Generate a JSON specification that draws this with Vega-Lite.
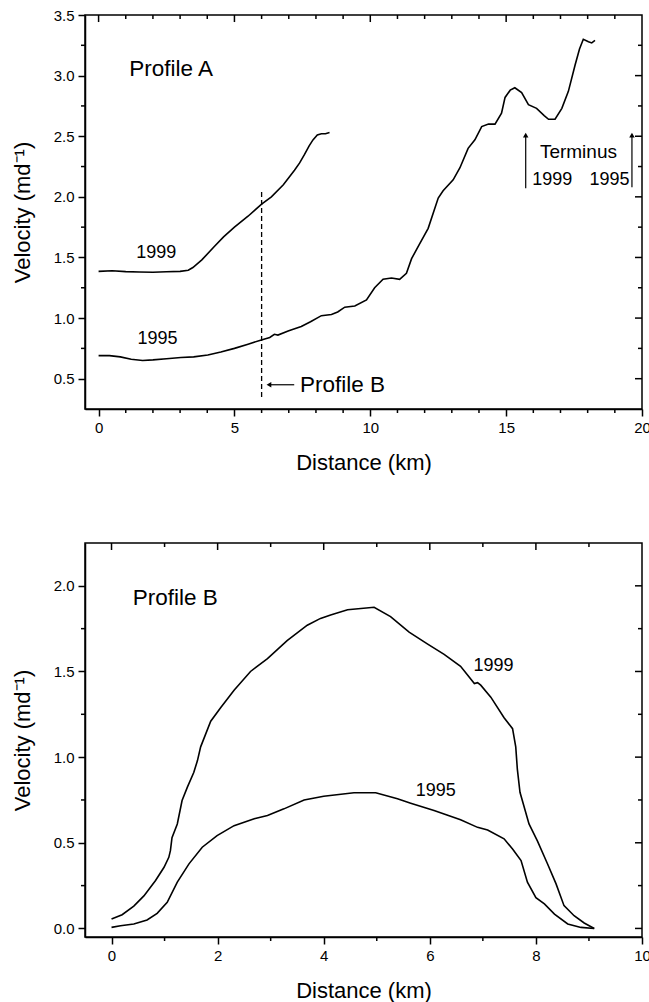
{
  "$schema": "https://vega.github.io/schema/vega-lite/v6.json",
  "padding": {"left": 10, "top": 7, "right": 0, "bottom": 0},
  "background": "white",
  "config": {
    "font": "Liberation Sans",
    "view": {"stroke": "black", "strokeWidth": 1.5},
    "axis": {
      "domainColor": "black", "domainWidth": 1.5,
      "tickColor": "black", "tickWidth": 1.5,
      "labelColor": "black", "titleColor": "black",
      "labelFont": "Liberation Sans", "titleFont": "Liberation Sans",
      "labelFontSize": 15, "titleFontSize": 22, "titleFontWeight": "normal",
      "grid": false, "labelFlush": false, "labelOverlap": false, "labelPadding": 4
    },
    "rule": {"color": "black", "strokeWidth": 1.5},
    "text": {"font": "Liberation Sans", "color": "black"}
  },
  "datasets": {
    "profileA": [
      {"distance": 0, "velocity": 1.385, "year": "1999"},
      {"distance": 0.5, "velocity": 1.39, "year": "1999"},
      {"distance": 1, "velocity": 1.383, "year": "1999"},
      {"distance": 1.5, "velocity": 1.38, "year": "1999"},
      {"distance": 2, "velocity": 1.378, "year": "1999"},
      {"distance": 2.5, "velocity": 1.382, "year": "1999"},
      {"distance": 3, "velocity": 1.385, "year": "1999"},
      {"distance": 3.3, "velocity": 1.395, "year": "1999"},
      {"distance": 3.47, "velocity": 1.417, "year": "1999"},
      {"distance": 3.8, "velocity": 1.48, "year": "1999"},
      {"distance": 4.26, "velocity": 1.59, "year": "1999"},
      {"distance": 4.6, "velocity": 1.67, "year": "1999"},
      {"distance": 5, "velocity": 1.75, "year": "1999"},
      {"distance": 5.5, "velocity": 1.84, "year": "1999"},
      {"distance": 6, "velocity": 1.94, "year": "1999"},
      {"distance": 6.36, "velocity": 2.0, "year": "1999"},
      {"distance": 6.8, "velocity": 2.1, "year": "1999"},
      {"distance": 7.21, "velocity": 2.22, "year": "1999"},
      {"distance": 7.4, "velocity": 2.28, "year": "1999"},
      {"distance": 7.58, "velocity": 2.35, "year": "1999"},
      {"distance": 7.75, "velocity": 2.42, "year": "1999"},
      {"distance": 7.89, "velocity": 2.47, "year": "1999"},
      {"distance": 8.05, "velocity": 2.51, "year": "1999"},
      {"distance": 8.2, "velocity": 2.52, "year": "1999"},
      {"distance": 8.35, "velocity": 2.52, "year": "1999"},
      {"distance": 8.5, "velocity": 2.53, "year": "1999"},
      {"distance": 0, "velocity": 0.69, "year": "1995"},
      {"distance": 0.4, "velocity": 0.69, "year": "1995"},
      {"distance": 0.8, "velocity": 0.68, "year": "1995"},
      {"distance": 1.2, "velocity": 0.66, "year": "1995"},
      {"distance": 1.62, "velocity": 0.65, "year": "1995"},
      {"distance": 2, "velocity": 0.655, "year": "1995"},
      {"distance": 2.5, "velocity": 0.665, "year": "1995"},
      {"distance": 3.03, "velocity": 0.675, "year": "1995"},
      {"distance": 3.5, "velocity": 0.68, "year": "1995"},
      {"distance": 4.02, "velocity": 0.695, "year": "1995"},
      {"distance": 4.5, "velocity": 0.72, "year": "1995"},
      {"distance": 5, "velocity": 0.75, "year": "1995"},
      {"distance": 5.5, "velocity": 0.785, "year": "1995"},
      {"distance": 5.99, "velocity": 0.82, "year": "1995"},
      {"distance": 6.3, "velocity": 0.84, "year": "1995"},
      {"distance": 6.47, "velocity": 0.866, "year": "1995"},
      {"distance": 6.6, "velocity": 0.86, "year": "1995"},
      {"distance": 7, "velocity": 0.895, "year": "1995"},
      {"distance": 7.46, "velocity": 0.93, "year": "1995"},
      {"distance": 7.8, "velocity": 0.97, "year": "1995"},
      {"distance": 8.2, "velocity": 1.02, "year": "1995"},
      {"distance": 8.57, "velocity": 1.03, "year": "1995"},
      {"distance": 8.8, "velocity": 1.05, "year": "1995"},
      {"distance": 9.06, "velocity": 1.09, "year": "1995"},
      {"distance": 9.43, "velocity": 1.1, "year": "1995"},
      {"distance": 9.86, "velocity": 1.15, "year": "1995"},
      {"distance": 10.16, "velocity": 1.25, "year": "1995"},
      {"distance": 10.47, "velocity": 1.32, "year": "1995"},
      {"distance": 10.78, "velocity": 1.33, "year": "1995"},
      {"distance": 11.08, "velocity": 1.32, "year": "1995"},
      {"distance": 11.33, "velocity": 1.37, "year": "1995"},
      {"distance": 11.52, "velocity": 1.49, "year": "1995"},
      {"distance": 11.76, "velocity": 1.59, "year": "1995"},
      {"distance": 12.13, "velocity": 1.74, "year": "1995"},
      {"distance": 12.5, "velocity": 1.99, "year": "1995"},
      {"distance": 12.68, "velocity": 2.05, "year": "1995"},
      {"distance": 13.05, "velocity": 2.14, "year": "1995"},
      {"distance": 13.3, "velocity": 2.24, "year": "1995"},
      {"distance": 13.6, "velocity": 2.4, "year": "1995"},
      {"distance": 13.85, "velocity": 2.47, "year": "1995"},
      {"distance": 14.1, "velocity": 2.58, "year": "1995"},
      {"distance": 14.35, "velocity": 2.6, "year": "1995"},
      {"distance": 14.59, "velocity": 2.6, "year": "1995"},
      {"distance": 14.83, "velocity": 2.69, "year": "1995"},
      {"distance": 14.96, "velocity": 2.82, "year": "1995"},
      {"distance": 15.15, "velocity": 2.88, "year": "1995"},
      {"distance": 15.32, "velocity": 2.9, "year": "1995"},
      {"distance": 15.57, "velocity": 2.86, "year": "1995"},
      {"distance": 15.82, "velocity": 2.76, "year": "1995"},
      {"distance": 16.12, "velocity": 2.73, "year": "1995"},
      {"distance": 16.4, "velocity": 2.67, "year": "1995"},
      {"distance": 16.56, "velocity": 2.64, "year": "1995"},
      {"distance": 16.8, "velocity": 2.64, "year": "1995"},
      {"distance": 17.05, "velocity": 2.73, "year": "1995"},
      {"distance": 17.29, "velocity": 2.87, "year": "1995"},
      {"distance": 17.54, "velocity": 3.09, "year": "1995"},
      {"distance": 17.7, "velocity": 3.22, "year": "1995"},
      {"distance": 17.84, "velocity": 3.3, "year": "1995"},
      {"distance": 18.03, "velocity": 3.28, "year": "1995"},
      {"distance": 18.15, "velocity": 3.27, "year": "1995"},
      {"distance": 18.27, "velocity": 3.29, "year": "1995"}
    ],
    "profileB": [
      {"distance": 0, "velocity": 0.055, "year": "1999"},
      {"distance": 0.2, "velocity": 0.08, "year": "1999"},
      {"distance": 0.42, "velocity": 0.13, "year": "1999"},
      {"distance": 0.61, "velocity": 0.19, "year": "1999"},
      {"distance": 0.83, "velocity": 0.28, "year": "1999"},
      {"distance": 0.99, "velocity": 0.357, "year": "1999"},
      {"distance": 1.08, "velocity": 0.415, "year": "1999"},
      {"distance": 1.11, "velocity": 0.454, "year": "1999"},
      {"distance": 1.14, "velocity": 0.53, "year": "1999"},
      {"distance": 1.24, "velocity": 0.61, "year": "1999"},
      {"distance": 1.33, "velocity": 0.747, "year": "1999"},
      {"distance": 1.43, "velocity": 0.825, "year": "1999"},
      {"distance": 1.55, "velocity": 0.91, "year": "1999"},
      {"distance": 1.62, "velocity": 0.98, "year": "1999"},
      {"distance": 1.68, "velocity": 1.06, "year": "1999"},
      {"distance": 1.87, "velocity": 1.21, "year": "1999"},
      {"distance": 2.06, "velocity": 1.29, "year": "1999"},
      {"distance": 2.31, "velocity": 1.39, "year": "1999"},
      {"distance": 2.62, "velocity": 1.5, "year": "1999"},
      {"distance": 2.94, "velocity": 1.575, "year": "1999"},
      {"distance": 3.31, "velocity": 1.68, "year": "1999"},
      {"distance": 3.69, "velocity": 1.77, "year": "1999"},
      {"distance": 3.94, "velocity": 1.81, "year": "1999"},
      {"distance": 4.13, "velocity": 1.83, "year": "1999"},
      {"distance": 4.45, "velocity": 1.86, "year": "1999"},
      {"distance": 4.95, "velocity": 1.875, "year": "1999"},
      {"distance": 5.26, "velocity": 1.82, "year": "1999"},
      {"distance": 5.61, "velocity": 1.73, "year": "1999"},
      {"distance": 5.96, "velocity": 1.66, "year": "1999"},
      {"distance": 6.27, "velocity": 1.6, "year": "1999"},
      {"distance": 6.58, "velocity": 1.53, "year": "1999"},
      {"distance": 6.84, "velocity": 1.43, "year": "1999"},
      {"distance": 6.9, "velocity": 1.435, "year": "1999"},
      {"distance": 6.96, "velocity": 1.42, "year": "1999"},
      {"distance": 7.15, "velocity": 1.35, "year": "1999"},
      {"distance": 7.4, "velocity": 1.23, "year": "1999"},
      {"distance": 7.56, "velocity": 1.166, "year": "1999"},
      {"distance": 7.62, "velocity": 1.06, "year": "1999"},
      {"distance": 7.65, "velocity": 0.93, "year": "1999"},
      {"distance": 7.7, "velocity": 0.795, "year": "1999"},
      {"distance": 7.87, "velocity": 0.61, "year": "1999"},
      {"distance": 8.03, "velocity": 0.51, "year": "1999"},
      {"distance": 8.22, "velocity": 0.376, "year": "1999"},
      {"distance": 8.38, "velocity": 0.26, "year": "1999"},
      {"distance": 8.53, "velocity": 0.133, "year": "1999"},
      {"distance": 8.72, "velocity": 0.074, "year": "1999"},
      {"distance": 8.91, "velocity": 0.032, "year": "1999"},
      {"distance": 9.1, "velocity": 0.0, "year": "1999"},
      {"distance": 0, "velocity": 0.006, "year": "1995"},
      {"distance": 0.17, "velocity": 0.016, "year": "1995"},
      {"distance": 0.42, "velocity": 0.026, "year": "1995"},
      {"distance": 0.67, "velocity": 0.049, "year": "1995"},
      {"distance": 0.86, "velocity": 0.088, "year": "1995"},
      {"distance": 1.05, "velocity": 0.152, "year": "1995"},
      {"distance": 1.24, "velocity": 0.27, "year": "1995"},
      {"distance": 1.46, "velocity": 0.377, "year": "1995"},
      {"distance": 1.71, "velocity": 0.474, "year": "1995"},
      {"distance": 1.99, "velocity": 0.542, "year": "1995"},
      {"distance": 2.31, "velocity": 0.6, "year": "1995"},
      {"distance": 2.69, "velocity": 0.64, "year": "1995"},
      {"distance": 2.94, "velocity": 0.659, "year": "1995"},
      {"distance": 3.25, "velocity": 0.698, "year": "1995"},
      {"distance": 3.63, "velocity": 0.75, "year": "1995"},
      {"distance": 4.0, "velocity": 0.772, "year": "1995"},
      {"distance": 4.57, "velocity": 0.792, "year": "1995"},
      {"distance": 4.98, "velocity": 0.792, "year": "1995"},
      {"distance": 5.39, "velocity": 0.757, "year": "1995"},
      {"distance": 5.64, "velocity": 0.731, "year": "1995"},
      {"distance": 6.08, "velocity": 0.688, "year": "1995"},
      {"distance": 6.58, "velocity": 0.634, "year": "1995"},
      {"distance": 6.9, "velocity": 0.59, "year": "1995"},
      {"distance": 7.09, "velocity": 0.575, "year": "1995"},
      {"distance": 7.4, "velocity": 0.523, "year": "1995"},
      {"distance": 7.56, "velocity": 0.464, "year": "1995"},
      {"distance": 7.72, "velocity": 0.396, "year": "1995"},
      {"distance": 7.84, "velocity": 0.27, "year": "1995"},
      {"distance": 8.0, "velocity": 0.18, "year": "1995"},
      {"distance": 8.16, "velocity": 0.143, "year": "1995"},
      {"distance": 8.35, "velocity": 0.084, "year": "1995"},
      {"distance": 8.6, "velocity": 0.026, "year": "1995"},
      {"distance": 8.85, "velocity": 0.006, "year": "1995"},
      {"distance": 9.1, "velocity": 0.0, "year": "1995"}
    ],
    "tickAxMajor": [{"t": 0}, {"t": 5}, {"t": 10}, {"t": 15}],
    "tickAxMinor": [{"t": 1}, {"t": 2}, {"t": 3}, {"t": 4}, {"t": 6}, {"t": 7}, {"t": 8}, {"t": 9}, {"t": 11}, {"t": 12}, {"t": 13}, {"t": 14}, {"t": 16}, {"t": 17}, {"t": 18}, {"t": 19}],
    "tickAyMajor": [{"t": 0.5}, {"t": 1}, {"t": 1.5}, {"t": 2}, {"t": 2.5}, {"t": 3}],
    "tickAyMinor": [{"t": 0.75}, {"t": 1.25}, {"t": 1.75}, {"t": 2.25}, {"t": 2.75}, {"t": 3.25}],
    "tickBxMajor": [{"t": 0}, {"t": 2}, {"t": 4}, {"t": 6}, {"t": 8}],
    "tickBxMinor": [{"t": 1}, {"t": 3}, {"t": 5}, {"t": 7}, {"t": 9}],
    "tickByMajor": [{"t": 0}, {"t": 0.5}, {"t": 1}, {"t": 1.5}, {"t": 2}],
    "tickByMinor": [{"t": 0.25}, {"t": 0.75}, {"t": 1.25}, {"t": 1.75}]
  },
  "spacing": 67,
  "vconcat": [
    {
      "width": 557,
      "height": 394,
      "layer": [
        {
          "data": {"name": "profileA"},
          "mark": {"type": "line", "color": "black", "strokeWidth": 1.6},
          "encoding": {
            "x": {
              "field": "distance", "type": "quantitative",
              "scale": {"domain": [-0.5, 20], "nice": false, "zero": false},
              "axis": {"orient": "bottom", "title": "Distance (km)", "titlePadding": 17, "format": "d", "values": [0, 5, 10, 15, 20], "tickSize": 7, "labelOverlap": false}
            },
            "y": {
              "field": "velocity", "type": "quantitative",
              "scale": {"domain": [0.25, 3.5], "nice": false, "zero": false},
              "axis": {"orient": "left", "title": "Velocity (md⁻¹)", "titlePadding": 19, "format": ".1f", "values": [0.5, 1, 1.5, 2, 2.5, 3, 3.5], "tickSize": 7, "labelOverlap": false}
            },
            "detail": {"field": "year", "type": "nominal"}
          }
        },
        {
          "data": {"name": "tickAxMajor"},
          "mark": {"type": "rule"},
          "encoding": {
            "x": {"field": "t", "type": "quantitative"},
            "y": {"datum": 3.5, "type": "quantitative"},
            "y2": {"datum": 3.442}
          }
        },
        {
          "data": {"name": "tickAxMinor"},
          "mark": {"type": "rule"},
          "encoding": {
            "x": {"field": "t", "type": "quantitative"},
            "y": {"datum": 3.5, "type": "quantitative"},
            "y2": {"datum": 3.467}
          }
        },
        {
          "data": {"name": "tickAxMinor"},
          "mark": {"type": "rule"},
          "encoding": {
            "x": {"field": "t", "type": "quantitative"},
            "y": {"datum": 0.25, "type": "quantitative"},
            "y2": {"datum": 0.217}
          }
        },
        {
          "data": {"name": "tickAyMajor"},
          "mark": {"type": "rule"},
          "encoding": {
            "y": {"field": "t", "type": "quantitative"},
            "x": {"datum": 20, "type": "quantitative"},
            "x2": {"datum": 19.742}
          }
        },
        {
          "data": {"name": "tickAyMinor"},
          "mark": {"type": "rule"},
          "encoding": {
            "y": {"field": "t", "type": "quantitative"},
            "x": {"datum": 20, "type": "quantitative"},
            "x2": {"datum": 19.853}
          }
        },
        {
          "data": {"name": "tickAyMinor"},
          "mark": {"type": "rule"},
          "encoding": {
            "y": {"field": "t", "type": "quantitative"},
            "x": {"datum": -0.5, "type": "quantitative"},
            "x2": {"datum": -0.647}
          }
        },
        {
          "data": {"values": [{"d": 6, "v": 0.35, "v2": 2.06}]},
          "mark": {"type": "rule", "strokeWidth": 1.3, "strokeDash": [5, 3]},
          "encoding": {
            "x": {"field": "d", "type": "quantitative"},
            "y": {"field": "v", "type": "quantitative"},
            "y2": {"field": "v2"}
          }
        },
        {
          "data": {"values": [
            {"d": 6.3, "d2": 7.2, "v": 0.45, "v2": 0.45},
            {"d": 15.72, "d2": 15.72, "v": 2.07, "v2": 2.5},
            {"d": 19.63, "d2": 19.63, "v": 2.08, "v2": 2.5}
          ]},
          "mark": {"type": "rule", "strokeWidth": 1.2},
          "encoding": {
            "x": {"field": "d", "type": "quantitative"},
            "x2": {"field": "d2"},
            "y": {"field": "v", "type": "quantitative"},
            "y2": {"field": "v2"}
          }
        },
        {
          "data": {"values": [
            {"d": 6.27, "v": 0.45, "dir": "left"},
            {"d": 15.72, "v": 2.51, "dir": "up"},
            {"d": 19.63, "v": 2.51, "dir": "up"}
          ]},
          "mark": {"type": "point", "filled": true, "color": "black", "size": 30, "opacity": 1},
          "encoding": {
            "x": {"field": "d", "type": "quantitative"},
            "y": {"field": "v", "type": "quantitative"},
            "shape": {"field": "dir", "type": "nominal", "scale": {"domain": ["left", "up"], "range": ["triangle-left", "triangle-up"]}, "legend": null}
          }
        },
        {
          "data": {"values": [
            {"d": 2.67, "v": 3.056, "label": "Profile A"},
            {"d": 8.98, "v": 0.45, "label": "Profile B"}
          ]},
          "mark": {"type": "text", "fontSize": 22.5, "align": "center", "baseline": "middle"},
          "encoding": {
            "x": {"field": "d", "type": "quantitative"},
            "y": {"field": "v", "type": "quantitative"},
            "text": {"field": "label"}
          }
        },
        {
          "data": {"values": [
            {"d": 2.12, "v": 1.54, "label": "1999"},
            {"d": 2.17, "v": 0.825, "label": "1995"},
            {"d": 16.7, "v": 2.14, "label": "1999"},
            {"d": 18.8, "v": 2.14, "label": "1995"}
          ]},
          "mark": {"type": "text", "fontSize": 18, "align": "center", "baseline": "middle"},
          "encoding": {
            "x": {"field": "d", "type": "quantitative"},
            "y": {"field": "v", "type": "quantitative"},
            "text": {"field": "label"}
          }
        },
        {
          "data": {"values": [
            {"d": 17.66, "v": 2.37, "label": "Terminus"}
          ]},
          "mark": {"type": "text", "fontSize": 19, "align": "center", "baseline": "middle"},
          "encoding": {
            "x": {"field": "d", "type": "quantitative"},
            "y": {"field": "v", "type": "quantitative"},
            "text": {"field": "label"}
          }
        }
      ]
    },
    {
      "width": 557,
      "height": 394,
      "layer": [
        {
          "data": {"name": "profileB"},
          "mark": {"type": "line", "color": "black", "strokeWidth": 1.6},
          "encoding": {
            "x": {
              "field": "distance", "type": "quantitative",
              "scale": {"domain": [-0.5, 10], "nice": false, "zero": false},
              "axis": {"orient": "bottom", "title": "Distance (km)", "titlePadding": 17, "format": "d", "values": [0, 2, 4, 6, 8, 10], "tickSize": 7, "labelOverlap": false}
            },
            "y": {
              "field": "velocity", "type": "quantitative",
              "scale": {"domain": [-0.05, 2.25], "nice": false, "zero": false},
              "axis": {"orient": "left", "title": "Velocity (md⁻¹)", "titlePadding": 19, "format": ".1f", "values": [0, 0.5, 1, 1.5, 2], "tickSize": 7, "labelOverlap": false}
            },
            "detail": {"field": "year", "type": "nominal"}
          }
        },
        {
          "data": {"name": "tickBxMajor"},
          "mark": {"type": "rule"},
          "encoding": {
            "x": {"field": "t", "type": "quantitative"},
            "y": {"datum": 2.25, "type": "quantitative"},
            "y2": {"datum": 2.209}
          }
        },
        {
          "data": {"name": "tickBxMinor"},
          "mark": {"type": "rule"},
          "encoding": {
            "x": {"field": "t", "type": "quantitative"},
            "y": {"datum": 2.25, "type": "quantitative"},
            "y2": {"datum": 2.2266}
          }
        },
        {
          "data": {"name": "tickBxMinor"},
          "mark": {"type": "rule"},
          "encoding": {
            "x": {"field": "t", "type": "quantitative"},
            "y": {"datum": -0.05, "type": "quantitative"},
            "y2": {"datum": -0.0734}
          }
        },
        {
          "data": {"name": "tickByMajor"},
          "mark": {"type": "rule"},
          "encoding": {
            "y": {"field": "t", "type": "quantitative"},
            "x": {"datum": 10, "type": "quantitative"},
            "x2": {"datum": 9.868}
          }
        },
        {
          "data": {"name": "tickByMinor"},
          "mark": {"type": "rule"},
          "encoding": {
            "y": {"field": "t", "type": "quantitative"},
            "x": {"datum": 10, "type": "quantitative"},
            "x2": {"datum": 9.925}
          }
        },
        {
          "data": {"name": "tickByMinor"},
          "mark": {"type": "rule"},
          "encoding": {
            "y": {"field": "t", "type": "quantitative"},
            "x": {"datum": -0.5, "type": "quantitative"},
            "x2": {"datum": -0.5754}
          }
        },
        {
          "data": {"values": [
            {"d": 1.2, "v": 1.93, "label": "Profile B"}
          ]},
          "mark": {"type": "text", "fontSize": 22.5, "align": "center", "baseline": "middle"},
          "encoding": {
            "x": {"field": "d", "type": "quantitative"},
            "y": {"field": "v", "type": "quantitative"},
            "text": {"field": "label"}
          }
        },
        {
          "data": {"values": [
            {"d": 7.2, "v": 1.53, "label": "1999"},
            {"d": 6.11, "v": 0.805, "label": "1995"}
          ]},
          "mark": {"type": "text", "fontSize": 18, "align": "center", "baseline": "middle"},
          "encoding": {
            "x": {"field": "d", "type": "quantitative"},
            "y": {"field": "v", "type": "quantitative"},
            "text": {"field": "label"}
          }
        }
      ]
    }
  ]
}
